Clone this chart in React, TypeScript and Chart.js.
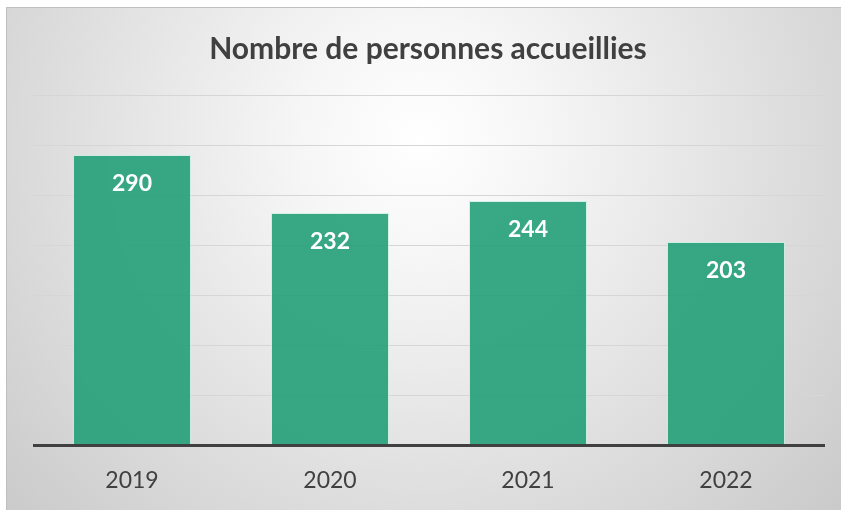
import React, { useEffect, useRef } from "react";
import { Chart, registerables } from "chart.js";

Chart.register(...registerables);

const categories = ["2019", "2020", "2021", "2022"];
const values = [290, 232, 244, 203];
const chartTitle = "Nombre de personnes accueillies";
const yMax = 350;
const yStep = 50;

const W = 841;
const H = 510;

const bgPlugin = {
  id: "bgPlugin",
  beforeDraw(chart: any) {
    const ctx = chart.ctx;
    ctx.save();
    ctx.fillStyle = "#ffffff";
    ctx.fillRect(0, 0, W, H);
    const g = ctx.createRadialGradient(420, 140, 0, 420, 140, 600);
    g.addColorStop(0, "#ffffff");
    g.addColorStop(0.2, "#f6f6f6");
    g.addColorStop(1, "#c6c6c6");
    ctx.fillStyle = g;
    ctx.fillRect(6, 7, W - 6, H - 7);
    ctx.strokeStyle = "#bfbfbf";
    ctx.lineWidth = 1;
    ctx.beginPath();
    ctx.moveTo(6.5, H);
    ctx.lineTo(6.5, 7.5);
    ctx.lineTo(W, 7.5);
    ctx.stroke();
    // title
    ctx.fillStyle = "#404040";
    ctx.textAlign = "center";
    ctx.textBaseline = "middle";
    let size = 28;
    ctx.font = `bold ${size}px Lato`;
    const w = ctx.measureText(chartTitle).width;
    size = Math.min(30, size * (445 / w));
    ctx.font = `bold ${size.toFixed(1)}px Lato`;
    ctx.fillText(chartTitle, 428, 49);
    ctx.restore();
  },
  afterDatasetsDraw(chart: any) {
    const ctx = chart.ctx;
    const area = chart.chartArea;
    ctx.save();
    ctx.strokeStyle = "#404040";
    ctx.lineWidth = 3;
    ctx.beginPath();
    ctx.moveTo(area.left, area.bottom + 0.5);
    ctx.lineTo(area.right, area.bottom + 0.5);
    ctx.stroke();
    const meta = chart.getDatasetMeta(0);
    ctx.fillStyle = "#ffffff";
    ctx.textAlign = "center";
    ctx.textBaseline = "middle";
    ctx.font = "bold 23px Lato";
    meta.data.forEach((bar: any, i: number) => {
      ctx.fillText(String(values[i]), bar.x, bar.y + 29);
    });
    ctx.restore();
  },
};

export default function App() {
  const ref = useRef<HTMLCanvasElement | null>(null);
  useEffect(() => {
    if (!ref.current) return;
    const chart = new Chart(ref.current, {
      type: "bar",
      data: {
        labels: categories,
        datasets: [
          {
            data: values,
            backgroundColor: "rgba(34,158,120,0.9)",
            borderColor: "rgba(200,240,225,0.7)",
            borderWidth: 1,
            categoryPercentage: 1,
            barPercentage: 0.596,
          },
        ],
      },
      options: {
        responsive: false,
        animation: false,
        layout: { padding: { left: 0, right: 16, top: 95, bottom: 0 } },
        plugins: {
          legend: { display: false },
          title: { display: false },
          tooltip: { enabled: false },
        },
        scales: {
          x: {
            grid: { display: false, drawTicks: false },
            border: { display: false },
            ticks: {
              color: "#404040",
              font: { family: "Lato", size: 23 },
              padding: 22,
            },
            afterFit(scale: any) {
              scale.height = 65;
            },
          },
          y: {
            min: 0,
            max: yMax,
            ticks: { display: false, stepSize: yStep },
            grid: { color: "#d6d6d6", lineWidth: 1, drawTicks: false },
            border: { display: false },
            afterFit(scale: any) {
              scale.width = 33;
            },
          },
        },
      },
      plugins: [bgPlugin],
    });
    return () => chart.destroy();
  }, []);
  return (
    <div style={{ position: "fixed", left: 0, top: 0, width: W, height: H }}>
      <canvas ref={ref} width={W} height={H} style={{ display: "block" }} />
    </div>
  );
}
